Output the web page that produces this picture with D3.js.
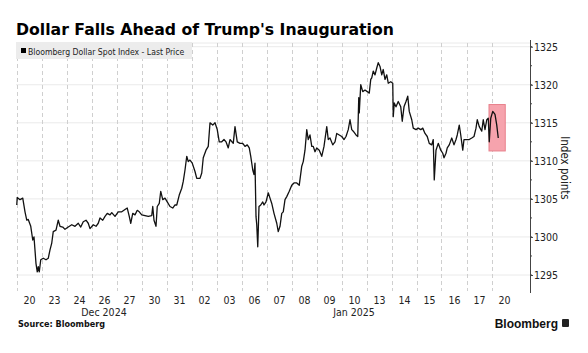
<!DOCTYPE html>
<html>
<head>
<meta charset="utf-8">
<script src="https://cdn.jsdelivr.net/npm/d3@7"></script>
<style>
  body { margin: 0; background: #fff; }
  svg text { font-family: "DejaVu Sans Condensed", "DejaVu Sans", sans-serif; }
</style>
</head>
<body>
<div id="chartContainer"></div>
<script>
const width = 588;
const height = 353;
const marginTop = 43;
const marginBottom = 291;
const plotLeft = 16.5;
const plotRight = 530;

// trading days shown on the axis
const dayLabels = ["20","23","24","26","27","30","31","02","03","06","07","08","09","10","13","14","15","16","17","20"];
const monthLabels = [
  { label: "Dec 2024", pos: 3.5 },
  { label: "Jan 2025", pos: 13.5 }
];
const yTicks = [1295, 1300, 1305, 1310, 1315, 1320, 1325];

// position in trading days since the Dec 20 open, and index level
const dayPos = [
  0.01,0.03,0.14,0.25,0.34,0.41,0.47,0.57,0.65,0.70,0.78,0.83,0.87,0.91,0.97,1.07,1.18,1.27,1.34,1.41,
  1.47,1.58,1.67,1.74,1.85,1.94,2.07,2.21,2.34,2.47,2.57,2.67,2.78,2.87,2.94,3.07,3.18,3.27,3.34,3.45,
  3.54,3.63,3.74,3.81,3.94,4.07,4.21,4.34,4.43,4.51,4.57,4.65,4.74,4.83,4.91,
  5.01,5.14,5.27,5.41,5.45,5.50,5.58,5.63,5.71,5.77,5.85,5.94,6.03,6.14,6.25,6.34,6.41,6.51,6.61,6.67,
  6.74,6.81,6.87,6.94,7.03,7.14,7.21,7.34,7.41,7.47,7.58,7.67,7.74,7.85,7.94,8.03,8.11,8.21,8.30,8.38,
  8.47,8.54,8.67,8.74,8.83,8.94,9.05,9.14,9.23,9.31,9.37,9.45,9.50,9.54,9.58,9.61,9.65,9.70,9.77,9.85,
  9.90,9.98,
  10.07,10.14,10.21,10.30,10.41,10.47,10.54,10.61,10.67,10.74,10.81,10.91,11.01,11.10,11.21,11.31,11.41,11.47,11.54,11.61,
  11.67,11.74,11.81,11.87,11.94,12.01,12.11,12.21,12.30,12.41,12.47,12.54,12.65,12.74,12.81,12.91,13.01,13.10,13.18,13.27,
  13.34,13.41,13.47,13.58,13.65,13.69,13.71,13.77,13.85,13.94,14.03,14.11,14.17,14.21,14.27,14.34,14.41,14.47,14.54,14.61,
  14.67,14.74,14.81,14.87,14.97,15.05,
  15.07,15.11,15.18,15.27,15.37,15.43,15.50,15.58,15.65,15.71,15.81,15.87,15.98,16.07,16.17,16.25,16.34,16.43,16.51,16.61,
  16.67,16.71,16.78,16.87,16.97,17.05,17.10,17.18,17.23,17.31,17.41,17.50,17.58,17.63,17.71,17.77,17.85,17.90,18.01,18.11,
  18.21,18.30,18.38,18.43,18.51,18.61,18.67,18.74,18.81,18.87,18.91,18.97,19.05,19.14,19.21,19.27
];
const price = [
  1304.2,1305.2,1304.9,1305.1,1303.3,1302.2,1302.3,1301.4,1299.6,1300.0,1296.5,1295.4,1296.1,1295.4,1297.0,1297.2,1297.0,1297.2,1298.3,1299.2,
  1300.7,1300.9,1302.2,1301.4,1301.3,1301.0,1301.3,1301.6,1301.4,1301.8,1301.3,1302.0,1302.2,1301.8,1301.1,1301.6,1301.4,1301.8,1302.5,1302.2,
  1302.7,1303.1,1302.9,1303.2,1302.7,1303.3,1303.3,1303.6,1303.8,1302.7,1301.8,1303.1,1302.9,1303.5,1303.3,
  1302.9,1302.8,1302.7,1302.8,1304.0,1302.2,1301.4,1304.0,1304.4,1306.0,1304.9,1305.1,1304.6,1304.0,1303.8,1304.2,1304.2,1305.5,1306.4,1307.3,
  1308.8,1310.6,1309.9,1310.1,1309.7,1308.6,1307.7,1307.7,1308.4,1310.4,1311.4,1311.9,1315.0,1314.7,1315.0,1314.1,1312.5,1312.5,1312.8,1312.5,
  1311.7,1312.8,1312.3,1314.5,1312.5,1312.3,1312.3,1311.9,1312.1,1311.7,1310.6,1308.8,1308.2,1309.7,1302.7,1301.6,1298.7,1304.0,1304.2,1304.6,
  1304.2,1304.6,
  1305.8,1305.1,1304.4,1303.1,1301.8,1300.7,1301.4,1303.1,1303.3,1304.9,1305.3,1306.0,1306.8,1307.1,1307.1,1306.8,1309.3,1309.9,1311.4,1314.1,
  1312.8,1313.4,1311.9,1311.9,1311.2,1311.7,1311.4,1310.6,1311.9,1314.5,1312.8,1313.0,1312.1,1312.5,1313.6,1313.4,1313.2,1312.8,1313.2,1314.1,
  1315.4,1314.1,1313.9,1313.4,1313.2,1318.3,1316.3,1320.0,1319.1,1319.3,1319.1,1318.9,1320.7,1320.9,1321.8,1321.3,1322.2,1322.9,1322.4,1321.3,
  1322.0,1320.7,1321.3,1320.2,1320.4,1320.2,
  1315.8,1317.6,1317.1,1317.8,1317.1,1315.2,1317.1,1317.8,1318.5,1316.5,1315.4,1314.3,1314.1,1314.3,1314.1,1314.3,1313.6,1313.2,1312.3,1312.1,
  1312.8,1307.5,1311.4,1312.3,1311.4,1311.0,1310.4,1311.0,1311.7,1312.1,1313.0,1312.1,1312.8,1313.4,1314.7,1313.4,1311.4,1312.8,1312.8,1312.8,
  1313.0,1313.2,1314.3,1315.4,1314.5,1313.9,1315.4,1314.1,1315.4,1315.6,1312.5,1315.6,1316.5,1316.1,1314.7,1313.0
];

// highlighted box around the latest move (day position / index level)
const highlightDays = [18.9, 19.55];
const highlightLevels = [1311.3, 1317.4];

const data = dayPos.map((d, i) => ({ pos: d, value: price[i] }));

const svg = d3.select("#chartContainer")
  .append("svg")
  .attr("width", width)
  .attr("height", height);

const xScale = d3.scaleLinear()
  .domain([0, 20.54])
  .range([plotLeft, plotRight]);

const yScale = d3.scaleLinear()
  .domain([1295, 1325])
  .range([275, 46.7]);

// title
svg.append("text")
  .attr("x", 16)
  .attr("y", 35)
  .style("font-family", "'DejaVu Sans', sans-serif")
  .style("font-weight", "bold")
  .style("font-size", "15.7px")
  .attr("fill", "#000")
  .text("Dollar Falls Ahead of Trump's Inauguration");

// horizontal dotted gridlines
svg.append("g")
  .selectAll("line")
  .data(yTicks)
  .join("line")
  .attr("x1", plotLeft)
  .attr("x2", plotRight)
  .attr("y1", d => yScale(d))
  .attr("y2", d => yScale(d))
  .attr("stroke", "#d4d4d4")
  .attr("stroke-width", 1)
  .attr("stroke-dasharray", "1,1");

svg.append("line")
  .attr("x1", plotLeft)
  .attr("x2", plotRight)
  .attr("y1", marginTop)
  .attr("y2", marginTop)
  .attr("stroke", "#d4d4d4")
  .attr("stroke-dasharray", "1,1");

// vertical dashed gridlines at day boundaries
svg.append("g")
  .selectAll("line")
  .data(d3.range(0, 20))
  .join("line")
  .attr("x1", d => Math.round(xScale(d)) + 0.5)
  .attr("x2", d => Math.round(xScale(d)) + 0.5)
  .attr("y1", marginTop)
  .attr("y2", marginBottom)
  .attr("stroke", "#cfcfcf")
  .attr("stroke-width", 1)
  .attr("stroke-dasharray", "4,3");

// legend
svg.append("rect")
  .attr("x", 16)
  .attr("y", 42)
  .attr("width", 176)
  .attr("height", 17)
  .attr("fill", "#ececec");
svg.append("rect")
  .attr("x", 21)
  .attr("y", 48)
  .attr("width", 5)
  .attr("height", 5)
  .attr("fill", "#000");
svg.append("text")
  .attr("x", 28)
  .attr("y", 54.5)
  .style("font-size", "8.6px")
  .attr("fill", "#222")
  .text("Bloomberg Dollar Spot Index - Last Price");

// highlight
svg.append("rect")
  .attr("x", xScale(highlightDays[0]))
  .attr("y", yScale(highlightLevels[1]))
  .attr("width", xScale(highlightDays[1]) - xScale(highlightDays[0]))
  .attr("height", yScale(highlightLevels[0]) - yScale(highlightLevels[1]))
  .attr("fill", "#f6a3ad")
  .attr("stroke", "#e8808c")
  .attr("stroke-width", 1);

// price line
const line = d3.line()
  .x(d => xScale(d.pos))
  .y(d => yScale(d.value));

svg.append("path")
  .datum(data)
  .attr("fill", "none")
  .attr("stroke", "#111")
  .attr("stroke-width", 1.3)
  .attr("stroke-linejoin", "round")
  .attr("d", line);

// right axis
const yAxis = d3.axisRight(yScale)
  .tickValues(yTicks)
  .tickSize(3)
  .tickPadding(1)
  .tickFormat(d3.format("d"));

const yAxisG = svg.append("g")
  .attr("transform", `translate(${plotRight}, 0)`)
  .call(yAxis);
yAxisG.select(".domain").remove();
yAxisG.selectAll("text")
  .style("font-size", "10.5px")
  .attr("fill", "#222");
yAxisG.selectAll(".tick line").attr("stroke", "#444");

svg.append("g")
  .attr("transform", `translate(${plotRight}, 0)`)
  .selectAll("line")
  .data(d3.range(1295, 1326, 2.5))
  .join("line")
  .attr("x1", 0)
  .attr("x2", 2)
  .attr("y1", d => yScale(d))
  .attr("y2", d => yScale(d))
  .attr("stroke", "#444");

svg.append("line")
  .attr("x1", plotRight + 0.5)
  .attr("x2", plotRight + 0.5)
  .attr("y1", marginTop - 3)
  .attr("y2", marginBottom + 2)
  .attr("stroke", "#444")
  .attr("stroke-width", 1);

svg.append("text")
  .attr("transform", `translate(561, 168) rotate(90)`)
  .style("text-anchor", "middle")
  .style("font-size", "11.5px")
  .attr("fill", "#222")
  .text("Index points");

// bottom axis labels
const xAxis = d3.axisBottom(xScale)
  .tickValues(d3.range(0, 20).map(d => d + 0.5))
  .tickSize(0)
  .tickPadding(6)
  .tickFormat((d, i) => dayLabels[i]);

const xAxisG = svg.append("g")
  .attr("transform", `translate(0, ${marginBottom})`)
  .call(xAxis);
xAxisG.select(".domain").remove();
xAxisG.selectAll("text")
  .style("font-size", "10.5px")
  .attr("fill", "#222");

svg.append("g")
  .selectAll("text")
  .data(monthLabels)
  .join("text")
  .attr("x", d => xScale(d.pos))
  .attr("y", 316)
  .style("text-anchor", "middle")
  .style("font-size", "10.5px")
  .attr("fill", "#222")
  .text(d => d.label);

// footer
svg.append("text")
  .attr("x", 18)
  .attr("y", 327)
  .style("font-weight", "bold")
  .style("font-size", "9px")
  .attr("fill", "#111")
  .text("Source: Bloomberg");

svg.append("text")
  .attr("x", 558)
  .attr("y", 328)
  .style("text-anchor", "end")
  .style("font-family", "'Liberation Sans', Arial, sans-serif")
  .style("font-weight", "bold")
  .style("font-size", "12px")
  .attr("fill", "#111")
  .text("Bloomberg");

svg.append("rect")
  .attr("x", 562)
  .attr("y", 319)
  .attr("width", 7)
  .attr("height", 8)
  .attr("rx", 1)
  .attr("fill", "#222");
</script>
</body>
</html>
